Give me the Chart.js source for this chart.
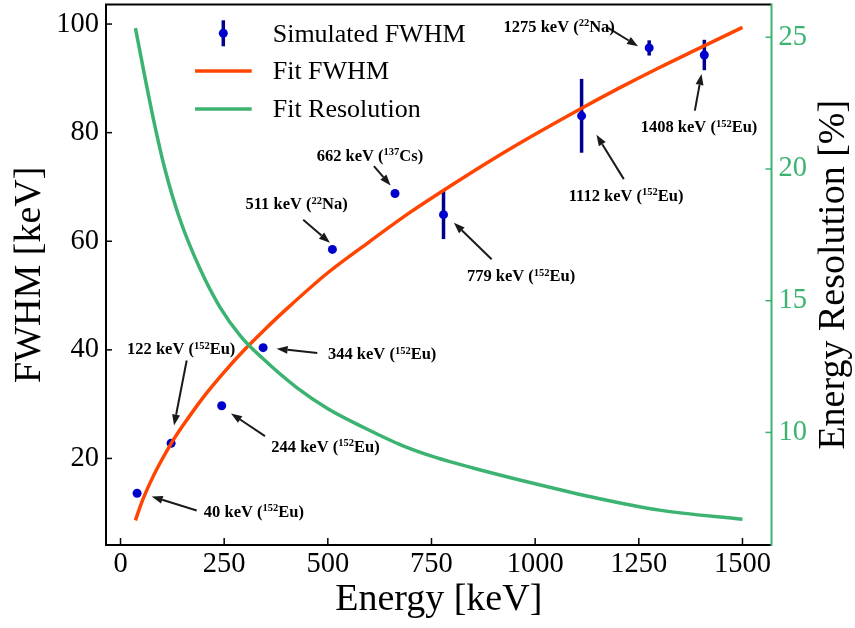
<!DOCTYPE html>
<html>
<head>
<meta charset="utf-8">
<script src="https://cdn.jsdelivr.net/npm/chart.js@4.4.1/dist/chart.umd.min.js"></script>
<style>
html, body { margin: 0; padding: 0; background: #fff; }
</style>
</head>
<body>
<canvas id="fwhmChart" width="855" height="628"></canvas>
<script>
// measured peaks
var peakEnergy = [40, 122, 244, 344, 511, 662, 779, 1112, 1275, 1408];
var peakFwhm = [13.6, 22.8, 29.7, 40.4, 58.5, 68.8, 64.9, 83.1, 95.6, 94.3];
var peakErr = [0, 0, 0, 0, 0, 0, 4.5, 6.8, 1.4, 2.8];
var peakMass = ['152', '152', '152', '152', '22', '137', '152', '152', '22', '152'];
var peakElem = ['Eu', 'Eu', 'Eu', 'Eu', 'Na', 'Cs', 'Eu', 'Eu', 'Na', 'Eu'];

// fit curves
var fitEnergy = [36, 50, 75, 100, 125, 150, 200, 250, 300, 350, 400, 500, 600, 700, 800, 900, 1000, 1100, 1200, 1300, 1400, 1500];
var fitFwhm = [8.6, 11.7, 16.1, 19.8, 23.1, 26.0, 31.3, 35.9, 40.1, 43.9, 47.5, 54.2, 59.9, 65.4, 70.4, 75.2, 79.7, 84.0, 88.1, 92.0, 95.7, 99.4];
var resEnergy = [36, 55, 80, 107, 143, 192, 240, 290, 340, 425, 500, 585, 680, 760, 850, 1000, 1150, 1300, 1500];
var resValue = [25.35, 23.8, 21.85, 20.0, 18.1, 16.2, 14.75, 13.65, 12.85, 11.7, 10.9, 10.2, 9.5, 9.05, 8.65, 8.05, 7.5, 7.05, 6.7];

var xTicks = [0, 250, 500, 750, 1000, 1250, 1500];
var yTicks = [20, 40, 60, 80, 100];
var y1Ticks = [10, 15, 20, 25];

// label placement, pixel offsets from each point: text centre, arrow tail, arrow head
var annoLayout = [
    [116.8, 18.3, 59.6, 17.3, 14.6, 3.3],
    [10.1, -94.4, 15.6, -82.7, 2.9, -17.7],
    [103.8, 40.3, 43.3, 30.3, 9.3, 7.6],
    [119, 6, 54.1, 5.4, 13.5, 1],
    [-35.8, -45.6, -29.2, -29.6, -2.5, -6.6],
    [-25.1, -38, -21.1, -27.3, -4.4, -8],
    [77.6, 61.3, 48.1, 44.6, 10.4, 8],
    [44.5, 79.6, 42.2, 63.3, 14.9, 19],
    [-90, -21.7, -41.1, -20, -11.1, -1.7],
    [-5.3, 71.6, -9.5, 55.6, -2.8, 19]
];

var serif = "'Liberation Serif', 'Times New Roman', serif";
var orange = '#FF4500';
var green = '#3CB371';
var blue = '#0000CD';
var navy = '#00008B';

Chart.defaults.font.family = serif;
Chart.defaults.color = '#000';

function toXY(xs, ys) {
    return xs.map(function (x, i) { return { x: x, y: ys[i] }; });
}

function noPad(s) {
    s.paddingTop = 0;
    s.paddingBottom = 0;
    s.paddingLeft = 0;
    s.paddingRight = 0;
}

function drawArrow(ctx, x0, y0, x1, y1) {
    var ang = Math.atan2(y1 - y0, x1 - x0);
    var hl = 11, hw = 4;
    var bx = x1 - hl * Math.cos(ang), by = y1 - hl * Math.sin(ang);
    ctx.strokeStyle = '#1a1a1a';
    ctx.fillStyle = '#1a1a1a';
    ctx.lineWidth = 2;
    ctx.beginPath();
    ctx.moveTo(x0, y0);
    ctx.lineTo(bx, by);
    ctx.stroke();
    ctx.beginPath();
    ctx.moveTo(x1, y1);
    ctx.lineTo(bx + hw * Math.sin(ang), by - hw * Math.cos(ang));
    ctx.lineTo(bx - hw * Math.sin(ang), by + hw * Math.cos(ang));
    ctx.closePath();
    ctx.fill();
}

function drawPeakLabel(ctx, cx, cy, energy, mass, elem) {
    var a = energy + ' keV (', c = elem + ')';
    ctx.font = 'bold 16.5px ' + serif;
    var wa = ctx.measureText(a).width, wc = ctx.measureText(c).width;
    ctx.font = 'bold 10.5px ' + serif;
    var wb = ctx.measureText(mass).width;
    var x = cx - (wa + wb + wc) / 2;
    var base = cy + 5.5;
    ctx.fillStyle = '#000';
    ctx.textAlign = 'left';
    ctx.textBaseline = 'alphabetic';
    ctx.font = 'bold 16.5px ' + serif;
    ctx.fillText(a, x, base);
    ctx.font = 'bold 10.5px ' + serif;
    ctx.fillText(mass, x + wa, base - 5.5);
    ctx.font = 'bold 16.5px ' + serif;
    ctx.fillText(c, x + wa + wb, base);
}

var framePlugin = {
    id: 'frame',
    beforeDatasetsDraw: function (chart) {
        var ctx = chart.ctx, xs = chart.scales.x, ys = chart.scales.y;
        ctx.save();
        // error bars
        ctx.strokeStyle = navy;
        ctx.lineWidth = 3.5;
        for (var i = 0; i < peakEnergy.length; i++) {
            if (!peakErr[i]) continue;
            var px = xs.getPixelForValue(peakEnergy[i]);
            ctx.beginPath();
            ctx.moveTo(px, ys.getPixelForValue(peakFwhm[i] - peakErr[i]));
            ctx.lineTo(px, ys.getPixelForValue(peakFwhm[i] + peakErr[i]));
            ctx.stroke();
        }
        // annotations
        for (var j = 0; j < peakEnergy.length; j++) {
            var l = annoLayout[j];
            var qx = xs.getPixelForValue(peakEnergy[j]);
            var qy = ys.getPixelForValue(peakFwhm[j]);
            drawArrow(ctx, qx + l[2], qy + l[3], qx + l[4], qy + l[5]);
            drawPeakLabel(ctx, qx + l[0], qy + l[1], peakEnergy[j], peakMass[j], peakElem[j]);
        }
        ctx.restore();
    },
    afterDraw: function (chart) {
        var ctx = chart.ctx, a = chart.chartArea;
        var xs = chart.scales.x, ys = chart.scales.y, y1 = chart.scales.y1;
        ctx.save();
        // inward ticks
        ctx.lineWidth = 1.5;
        ctx.strokeStyle = '#000';
        xTicks.forEach(function (v) {
            var p = xs.getPixelForValue(v);
            ctx.beginPath(); ctx.moveTo(p, a.bottom); ctx.lineTo(p, a.bottom - 7); ctx.stroke();
        });
        yTicks.forEach(function (v) {
            var p = ys.getPixelForValue(v);
            ctx.beginPath(); ctx.moveTo(a.left, p); ctx.lineTo(a.left + 6, p); ctx.stroke();
        });
        ctx.strokeStyle = green;
        y1Ticks.forEach(function (v) {
            var p = y1.getPixelForValue(v);
            ctx.beginPath(); ctx.moveTo(a.right, p); ctx.lineTo(a.right - 6, p); ctx.stroke();
        });
        // spines
        ctx.lineWidth = 2;
        ctx.strokeStyle = '#000';
        ctx.beginPath();
        ctx.moveTo(a.right, a.top); ctx.lineTo(a.left, a.top);
        ctx.lineTo(a.left, a.bottom); ctx.lineTo(a.right, a.bottom);
        ctx.stroke();
        ctx.strokeStyle = green;
        ctx.beginPath(); ctx.moveTo(a.right, a.top - 1); ctx.lineTo(a.right, a.bottom + 1); ctx.stroke();

        // right axis title, reading bottom to top
        ctx.save();
        ctx.translate(834, (a.top + a.bottom) / 2);
        ctx.rotate(-Math.PI / 2);
        ctx.font = '38px ' + serif;
        ctx.fillStyle = '#000';
        ctx.textAlign = 'center';
        ctx.textBaseline = 'middle';
        ctx.fillText('Energy Resolution [%]', 0, 0);
        ctx.restore();

        // legend
        var ds = chart.data.datasets;
        var hx0 = 195, hx1 = 251.7, tx = 272.7, rows = [33.3, 71, 109];
        ctx.lineWidth = 3.5;
        ctx.strokeStyle = navy;
        ctx.beginPath(); ctx.moveTo(223.3, rows[0] - 13); ctx.lineTo(223.3, rows[0] + 13); ctx.stroke();
        ctx.fillStyle = blue;
        ctx.beginPath(); ctx.arc(223.3, rows[0], 4.5, 0, Math.PI * 2); ctx.fill();
        ctx.strokeStyle = ds[1].borderColor;
        ctx.beginPath(); ctx.moveTo(hx0, rows[1]); ctx.lineTo(hx1, rows[1]); ctx.stroke();
        ctx.strokeStyle = ds[0].borderColor;
        ctx.beginPath(); ctx.moveTo(hx0, rows[2]); ctx.lineTo(hx1, rows[2]); ctx.stroke();
        ctx.font = '26px ' + serif;
        ctx.fillStyle = '#000';
        ctx.textAlign = 'left';
        ctx.textBaseline = 'middle';
        ctx.fillText(ds[2].label, tx, rows[0] + 1.5);
        ctx.fillText(ds[1].label, tx, rows[1] + 1.5);
        ctx.fillText(ds[0].label, tx, rows[2] + 1.5);
        ctx.restore();
    }
};

var ctx = document.getElementById('fwhmChart').getContext('2d');
var fwhmChart = new Chart(ctx, {
    type: 'line',
    data: {
        datasets: [{
            label: 'Fit Resolution',
            data: toXY(resEnergy, resValue),
            yAxisID: 'y1',
            borderColor: green,
            borderWidth: 3.5,
            pointRadius: 0,
            cubicInterpolationMode: 'monotone',
            fill: false
        }, {
            label: 'Fit FWHM',
            data: toXY(fitEnergy, fitFwhm),
            yAxisID: 'y',
            borderColor: orange,
            borderWidth: 3.5,
            pointRadius: 0,
            cubicInterpolationMode: 'monotone',
            fill: false
        }, {
            label: 'Simulated FWHM',
            data: toXY(peakEnergy, peakFwhm),
            yAxisID: 'y',
            showLine: false,
            pointRadius: 4.5,
            pointBorderWidth: 0,
            pointBackgroundColor: blue,
            borderColor: blue
        }]
    },
    options: {
        responsive: false,
        animation: false,
        layout: { padding: { top: 1, left: 0, right: 0, bottom: 0 } },
        plugins: {
            legend: { display: false },
            tooltip: { enabled: false }
        },
        scales: {
            x: {
                type: 'linear',
                min: -35,
                max: 1570,
                grid: { display: false, drawTicks: false },
                border: { display: false },
                afterBuildTicks: function (s) { s.ticks = xTicks.map(function (v) { return { value: v }; }); },
                afterFit: function (s) { s.height = 83; noPad(s); },
                ticks: {
                    font: { size: 28.5 },
                    padding: 2,
                    maxRotation: 0,
                    autoSkip: false,
                    callback: function (v) { return String(v); }
                },
                title: {
                    display: true,
                    text: 'Energy [keV]',
                    font: { size: 38 },
                    padding: { top: 0, bottom: 5 }
                }
            },
            y: {
                type: 'linear',
                position: 'left',
                min: 4.06,
                max: 103.6,
                grid: { display: false, drawTicks: false },
                border: { display: false },
                afterBuildTicks: function (s) { s.ticks = yTicks.map(function (v) { return { value: v }; }); },
                afterFit: function (s) { s.width = 106; noPad(s); },
                ticks: {
                    font: { size: 28.5 },
                    padding: 7,
                    callback: function (v) { return String(v); }
                },
                title: {
                    display: true,
                    text: 'FWHM [keV]',
                    font: { size: 38 },
                    padding: { top: 7, bottom: 0 }
                }
            },
            y1: {
                type: 'linear',
                position: 'right',
                min: 5.726,
                max: 26.245,
                grid: { display: false, drawTicks: false },
                border: { display: false },
                afterBuildTicks: function (s) { s.ticks = y1Ticks.map(function (v) { return { value: v }; }); },
                afterFit: function (s) { s.width = 83.5; noPad(s); },
                ticks: {
                    font: { size: 28.5 },
                    color: green,
                    padding: 7,
                    callback: function (v) { return String(v); }
                }
            }
        }
    },
    plugins: [framePlugin]
});
</script>
</body>
</html>
